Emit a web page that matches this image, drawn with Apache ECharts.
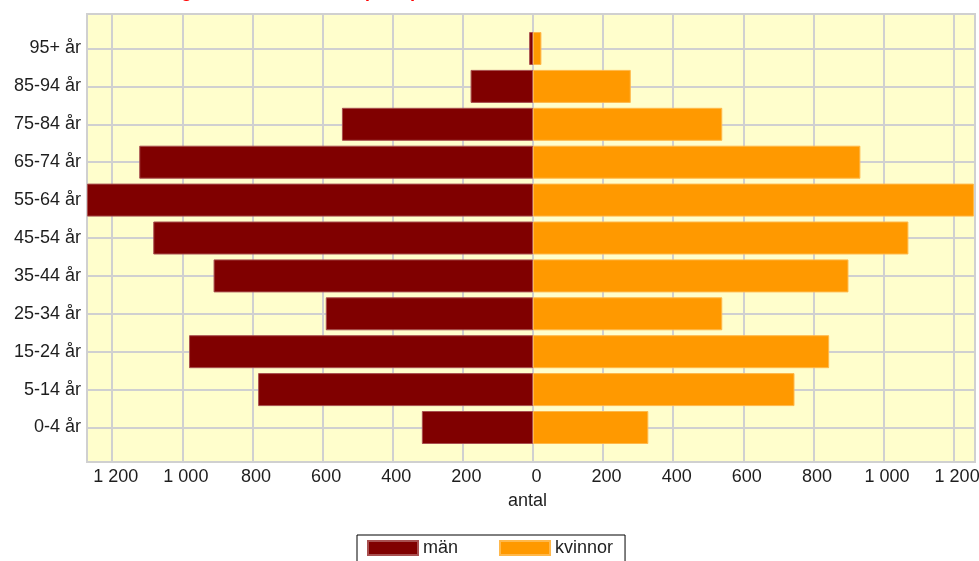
<!DOCTYPE html>
<html>
<head>
<meta charset="utf-8">
<script src="https://cdn.jsdelivr.net/npm/echarts@6/dist/echarts.min.js"></script>
<style>
  html, body { margin: 0; padding: 0; background: #ffffff; }
  #chart { width: 979px; height: 561px; }
</style>
</head>
<body>
<div id="chart"></div>
<script>
// Age groups, listed from youngest (bottom row) to oldest (top row)
const categories = ['0-4 år', '5-14 år', '15-24 år', '25-34 år', '35-44 år', '45-54 år',
                    '55-64 år', '65-74 år', '75-84 år', '85-94 år', '95+ år'];
const men   = [317, 784, 981, 591, 911, 1083, 1272, 1123, 545, 178, 11];
const women = [329, 746, 845, 540, 900, 1071, 1258, 934, 540, 279, 24];
const seriesNames = ['män', 'kvinnor'];
const axisTitle = 'antal';
const chartTitle = 'Befolkning efter ålder och kön (antal)';

// Extent of each half of the pyramid and the tick step
const menAxisMax = 1272;
const womenAxisMax = 1261;
const tickStep = 200;

// Layout (pixels)
const plotLeft = 87, zeroX = 533, plotRight = 975;
const plotTop = 14, plotBottom = 462;
const rowTop = 48.5, rowBottom = 427.5;

const FONT = "'Liberation Sans', Arial, sans-serif";
const TEXT = '#1e1e1e';
const GRIDLINE = '#d0d0d0';
const PLOT_BG = '#FFFECC';

const fmt = v => String(v).replace(/\B(?=(\d{3})+(?!\d))/g, ' ');

const chart = echarts.init(document.getElementById('chart'), null, { renderer: 'canvas' });

function bgGrid(left, right) {
  return {
    left: left, width: right - left, top: plotTop, height: plotBottom - plotTop,
    show: true, backgroundColor: PLOT_BG, borderColor: GRIDLINE, borderWidth: 2,
    containLabel: false, outerBoundsMode: 'none'
  };
}
function rowGrid(left, right) {
  return {
    left: left, width: right - left, top: rowTop, height: rowBottom - rowTop,
    show: false, containLabel: false, outerBoundsMode: 'none'
  };
}

const option = {
  animation: false,
  backgroundColor: '#ffffff',
  textStyle: { fontFamily: FONT },
  title: [
    {
      text: chartTitle, left: 94, top: -22,
      textStyle: { color: '#ff0000', fontSize: 18, fontWeight: 'bold', fontFamily: FONT }
    },
    {
      text: axisTitle, left: 508, top: 492, padding: 0,
      textStyle: { color: TEXT, fontSize: 18, fontWeight: 'normal', fontFamily: FONT }
    }
  ],
  legend: {
    data: seriesNames,
    left: 357, top: 535,
    orient: 'horizontal',
    icon: 'rect',
    itemWidth: 50, itemHeight: 14, itemGap: 41,
    padding: [4, 12, 6, 10],
    backgroundColor: '#ffffff',
    borderColor: '#000000', borderWidth: 1,
    textStyle: { color: TEXT, fontSize: 18, fontFamily: FONT }
  },
  grid: [
    bgGrid(plotLeft, zeroX),   // 0: men background + ticks
    bgGrid(zeroX, plotRight),  // 1: women background + ticks
    rowGrid(plotLeft, zeroX),  // 2: men bars
    rowGrid(zeroX, plotRight)  // 3: women bars
  ],
  xAxis: [
    {
      gridIndex: 0, type: 'value', inverse: true, min: 0, max: menAxisMax, interval: tickStep,
      axisLine: { show: false }, axisTick: { show: false },
      axisLabel: { color: TEXT, fontSize: 18, fontFamily: FONT, margin: 6, formatter: fmt,
                   showMinLabel: false, showMaxLabel: false, padding: [0, 0, 0, 7] },
      splitLine: { show: true, lineStyle: { color: GRIDLINE, width: 2 } }
    },
    {
      gridIndex: 1, type: 'value', min: 0, max: womenAxisMax, interval: tickStep,
      axisLine: { show: false }, axisTick: { show: false },
      axisLabel: { color: TEXT, fontSize: 18, fontFamily: FONT, margin: 6, formatter: fmt,
                   showMinLabel: true, showMaxLabel: false, padding: [0, 0, 0, 7] },
      splitLine: { show: true, lineStyle: { color: GRIDLINE, width: 2 } }
    },
    { gridIndex: 2, type: 'value', inverse: true, min: 0, max: menAxisMax, show: false },
    { gridIndex: 3, type: 'value', min: 0, max: womenAxisMax, show: false }
  ],
  yAxis: [
    { gridIndex: 0, type: 'value', show: false },
    { gridIndex: 1, type: 'value', show: false },
    {
      gridIndex: 2, type: 'category', data: categories, boundaryGap: false,
      axisLine: { show: false }, axisTick: { show: false },
      axisLabel: { color: TEXT, fontSize: 18, fontFamily: FONT, margin: 6, interval: 0 },
      splitLine: { show: true, interval: 0, lineStyle: { color: GRIDLINE, width: 2 } }
    },
    {
      gridIndex: 3, type: 'category', data: categories, boundaryGap: false,
      axisLine: { show: false }, axisTick: { show: false }, axisLabel: { show: false },
      splitLine: { show: true, interval: 0, lineStyle: { color: GRIDLINE, width: 2 } }
    }
  ],
  series: [
    {
      name: seriesNames[0], type: 'bar', xAxisIndex: 2, yAxisIndex: 2,
      data: men, barWidth: 33, clip: false,
      itemStyle: { color: '#800000', borderColor: '#a85050', borderWidth: 1 }
    },
    {
      name: seriesNames[1], type: 'bar', xAxisIndex: 3, yAxisIndex: 3,
      data: women, barWidth: 33, clip: false,
      itemStyle: { color: '#FF9900', borderColor: '#ffb84a', borderWidth: 1 }
    }
  ]
};

chart.setOption(option);
</script>
</body>
</html>
